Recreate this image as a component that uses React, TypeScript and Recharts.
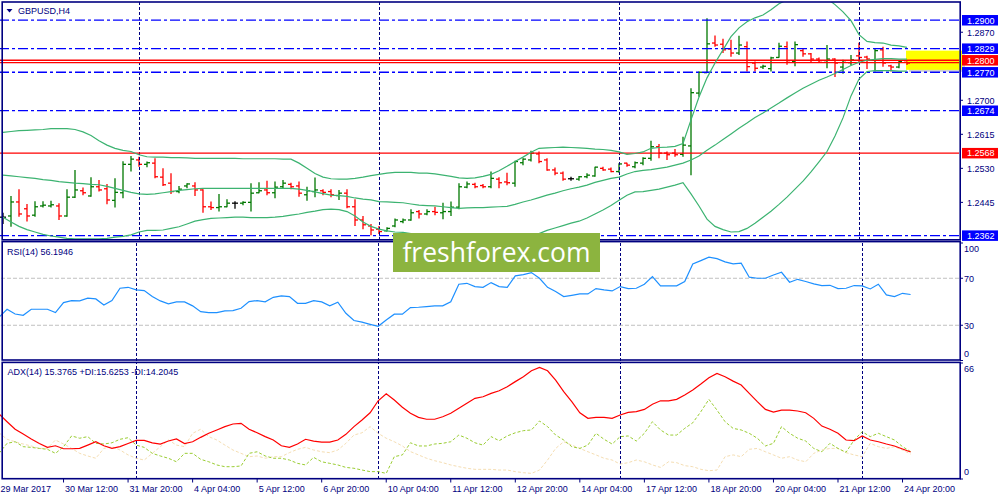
import React from "react";
import { ComposedChart, Bar, Line, XAxis, YAxis, ReferenceLine, ReferenceArea } from "recharts";

// GBPUSD H4 bars, 29 Mar 04:00 .. 25 Apr 00:00
const opens = [
  1.2408, 1.2411, 1.2446, 1.2429, 1.2413, 1.2436, 1.2436, 1.2436, 1.2411, 1.2458,
  1.2474, 1.2461, 1.2484, 1.2479, 1.245, 1.2469, 1.254, 1.2551, 1.254, 1.2543,
  1.2508, 1.2493, 1.2472, 1.2486, 1.2486, 1.2476, 1.2434, 1.2432, 1.2434, 1.2443,
  1.2443, 1.2445, 1.2469, 1.2476, 1.2469, 1.2484, 1.249, 1.2486, 1.2464, 1.2472,
  1.2474, 1.2472, 1.2462, 1.2468, 1.2434, 1.2401, 1.2386, 1.2378, 1.2374, 1.2386,
  1.2397, 1.2401, 1.2422, 1.2416, 1.2422, 1.2419, 1.2422, 1.2433, 1.2483, 1.249,
  1.2487, 1.2484, 1.2503, 1.2496, 1.2493, 1.2544, 1.2551, 1.2566, 1.2551, 1.2526,
  1.2518, 1.2504, 1.2503, 1.2509, 1.2511, 1.253, 1.2528, 1.2522, 1.2543, 1.2534,
  1.2543, 1.2555, 1.2584, 1.2568, 1.2568, 1.2565, 1.2586, 1.2718, 1.2769, 1.2843,
  1.284, 1.2828, 1.2818, 1.2834, 1.2793, 1.2783, 1.2779, 1.2807, 1.2834, 1.2797,
  1.2824, 1.2816, 1.2803, 1.2799, 1.2803, 1.2783, 1.2794, 1.2811, 1.2808, 1.2801,
  1.2826, 1.2786, 1.2783, 1.2795,
];
const highs = [
  1.2419, 1.2461, 1.2478, 1.2441, 1.2448, 1.2448, 1.2449, 1.2443, 1.2478, 1.2526,
  1.2482, 1.2508, 1.2501, 1.2491, 1.2505, 1.2548, 1.2561, 1.2559, 1.2547, 1.2555,
  1.253, 1.2518, 1.2486, 1.2493, 1.2495, 1.2478, 1.2447, 1.2466, 1.2453, 1.2448,
  1.2448, 1.2493, 1.2495, 1.2499, 1.2497, 1.2501, 1.2494, 1.2497, 1.2484, 1.2507,
  1.2478, 1.2478, 1.2476, 1.2478, 1.2453, 1.2411, 1.2391, 1.2386, 1.2383, 1.2405,
  1.2405, 1.2428, 1.2426, 1.2428, 1.2434, 1.2444, 1.2447, 1.2493, 1.2497, 1.2494,
  1.2491, 1.2522, 1.2508, 1.2519, 1.2549, 1.2555, 1.2574, 1.2572, 1.2555, 1.2532,
  1.2522, 1.2509, 1.2511, 1.2518, 1.2534, 1.2534, 1.2532, 1.2543, 1.2544, 1.2547,
  1.2558, 1.2599, 1.2591, 1.2572, 1.2578, 1.2609, 1.273, 1.2772, 1.2905, 1.2862,
  1.2854, 1.2851, 1.2861, 1.2847, 1.2797, 1.2789, 1.2809, 1.2844, 1.2847, 1.2847,
  1.2828, 1.2818, 1.2807, 1.2838, 1.2805, 1.2801, 1.2813, 1.2844, 1.2811, 1.2828,
  1.2834, 1.2789, 1.2798, 1.2797,
];
const lows = [
  1.2391, 1.2384, 1.2409, 1.2397, 1.2409, 1.2432, 1.2432, 1.2401, 1.2409, 1.2456,
  1.2463, 1.2459, 1.2472, 1.244, 1.2432, 1.2455, 1.2522, 1.2534, 1.2533, 1.2505,
  1.2486, 1.2466, 1.2468, 1.248, 1.2461, 1.2419, 1.2426, 1.2422, 1.2433, 1.2429,
  1.2438, 1.2422, 1.2468, 1.2463, 1.2455, 1.248, 1.2478, 1.2459, 1.2449, 1.2458,
  1.2463, 1.2458, 1.2451, 1.243, 1.2386, 1.2378, 1.2363, 1.2366, 1.2372, 1.2383,
  1.2393, 1.2399, 1.2405, 1.2413, 1.2413, 1.2403, 1.2411, 1.2428, 1.248, 1.248,
  1.248, 1.248, 1.248, 1.2488, 1.2484, 1.2538, 1.2547, 1.2543, 1.2524, 1.2513,
  1.2499, 1.2499, 1.2499, 1.2505, 1.2509, 1.2524, 1.252, 1.2519, 1.2534, 1.253,
  1.2538, 1.2549, 1.2555, 1.2551, 1.2559, 1.2559, 1.2513, 1.2709, 1.2768, 1.2834,
  1.2818, 1.2809, 1.2813, 1.2772, 1.2772, 1.2778, 1.2772, 1.2806, 1.2789, 1.2785,
  1.2809, 1.2794, 1.2793, 1.278, 1.2758, 1.2766, 1.2788, 1.2793, 1.2778, 1.2772,
  1.2784, 1.2772, 1.278, 1.2788,
];
const closes = [
  1.2408, 1.2446, 1.2416, 1.2411, 1.2434, 1.2438, 1.2439, 1.2411, 1.2458, 1.2476,
  1.2469, 1.2484, 1.2476, 1.2451, 1.247, 1.254, 1.2553, 1.254, 1.2544, 1.2509,
  1.2489, 1.2472, 1.2478, 1.2491, 1.2476, 1.2434, 1.2432, 1.2434, 1.2443, 1.2443,
  1.2445, 1.2468, 1.2474, 1.2469, 1.2483, 1.2493, 1.2484, 1.2468, 1.2474, 1.2476,
  1.247, 1.2464, 1.2468, 1.2434, 1.2401, 1.2389, 1.2376, 1.2372, 1.238, 1.2401,
  1.2401, 1.2419, 1.2416, 1.2422, 1.242, 1.2422, 1.2433, 1.2484, 1.2491, 1.2484,
  1.2484, 1.2505, 1.2494, 1.2494, 1.2547, 1.2553, 1.2568, 1.2547, 1.2526, 1.2518,
  1.2503, 1.2504, 1.2509, 1.2513, 1.2533, 1.2526, 1.2522, 1.2541, 1.2538, 1.2544,
  1.2555, 1.2584, 1.2568, 1.2564, 1.2564, 1.2588, 1.2719, 1.277, 1.2841, 1.2838,
  1.2826, 1.2818, 1.2838, 1.2784, 1.278, 1.2785, 1.2806, 1.2835, 1.2799, 1.2839,
  1.2816, 1.2803, 1.2799, 1.2803, 1.2793, 1.2799, 1.2801, 1.2807, 1.2803, 1.2824,
  1.2793, 1.2783, 1.2797, 1.2793,
];

// Bollinger Bands (20, 2)
const bbUpper = [
  1.262, 1.2622, 1.2624, 1.2625, 1.2626, 1.2627, 1.2629, 1.2629, 1.2629, 1.2627,
  1.2621, 1.2612, 1.2599, 1.2588, 1.258, 1.2575, 1.2572, 1.2564, 1.2559, 1.2558,
  1.2558, 1.2557, 1.2557, 1.2556, 1.2555, 1.2555, 1.2555, 1.2555, 1.2555, 1.2555,
  1.2554, 1.2554, 1.2554, 1.2554, 1.2554, 1.2553, 1.2553, 1.2543, 1.253, 1.2517,
  1.2508, 1.2504, 1.2503, 1.2503, 1.2505, 1.2508, 1.2512, 1.2515, 1.2518, 1.252,
  1.252, 1.252, 1.2518, 1.2518, 1.2516, 1.2513, 1.251, 1.2506, 1.2505, 1.2506,
  1.251, 1.2515, 1.2524, 1.2535, 1.2547, 1.2558, 1.257, 1.258, 1.2581, 1.2582,
  1.2583, 1.2582, 1.2581, 1.258, 1.2578, 1.2577, 1.2575, 1.2571, 1.2565, 1.2567,
  1.2571, 1.258, 1.2582, 1.2583, 1.2585, 1.2592, 1.2651, 1.2708, 1.2756, 1.2793,
  1.2826, 1.2859, 1.2881, 1.2896, 1.2906, 1.2913, 1.2926, 1.2941, 1.2951, 1.2959,
  1.2964, 1.2964, 1.2961, 1.2954, 1.2939, 1.2921, 1.2899, 1.2864, 1.2847, 1.2844,
  1.2843, 1.2838, 1.2836, 1.2832,
];
const bbMiddle = [
  1.2513, 1.2511, 1.2509, 1.2507, 1.2505, 1.2502, 1.25, 1.2497, 1.2495, 1.2493,
  1.2492, 1.249, 1.2489, 1.2485, 1.248, 1.2475, 1.247, 1.2466, 1.2465, 1.2466,
  1.2469, 1.2472, 1.2475, 1.2477, 1.2479, 1.248, 1.248, 1.248, 1.248, 1.248,
  1.248, 1.248, 1.248, 1.248, 1.248, 1.248, 1.248, 1.2478, 1.2475, 1.2471,
  1.2467, 1.2463, 1.2462, 1.246, 1.2456, 1.2453, 1.2451, 1.2447, 1.2446, 1.2445,
  1.2444, 1.2441, 1.2438, 1.2437, 1.2436, 1.2434, 1.2432, 1.243, 1.2431, 1.2432,
  1.2432, 1.2433, 1.2434, 1.2435, 1.244, 1.2446, 1.2451, 1.2457, 1.2463, 1.2468,
  1.2474, 1.2479, 1.2483, 1.2488, 1.2495, 1.25, 1.2505, 1.2508, 1.2516, 1.2522,
  1.2525, 1.2527, 1.253, 1.2533, 1.2538, 1.2543, 1.2551, 1.2561, 1.2575, 1.2588,
  1.2602, 1.2616, 1.263, 1.2643, 1.2657, 1.2668, 1.2681, 1.2693, 1.2706, 1.2718,
  1.273, 1.274, 1.275, 1.2758, 1.2767, 1.2777, 1.2787, 1.2795, 1.28, 1.2802,
  1.2804, 1.2804, 1.2803, 1.2803,
];
const bbLower = [
  1.2408, 1.2396, 1.2385, 1.2377, 1.2371, 1.2365, 1.2361, 1.2358, 1.2355, 1.2354,
  1.2354, 1.2354, 1.2354, 1.2355, 1.2358, 1.236, 1.2364, 1.2371, 1.2375, 1.2375,
  1.2376, 1.238, 1.2384, 1.2391, 1.2398, 1.2402, 1.2405, 1.2406, 1.2407, 1.2408,
  1.2408, 1.2407, 1.2407, 1.2407, 1.2408, 1.241, 1.2413, 1.2416, 1.242, 1.2423,
  1.2427, 1.2428, 1.2427, 1.2422, 1.2411, 1.2396, 1.2385, 1.2378, 1.2374, 1.2371,
  1.237, 1.2367, 1.2364, 1.2361, 1.2358, 1.2356, 1.2355, 1.2353, 1.2351, 1.235,
  1.2348, 1.2348, 1.2349, 1.2351, 1.2353, 1.2357, 1.2362, 1.2367, 1.2375, 1.2381,
  1.2387, 1.2393, 1.2398, 1.2406, 1.2416, 1.2426, 1.2437, 1.245, 1.2463, 1.2471,
  1.2472, 1.2475, 1.2478, 1.2483, 1.2488, 1.2494, 1.2466, 1.2436, 1.2403, 1.2385,
  1.2377, 1.2371, 1.2372, 1.238, 1.2393, 1.2408, 1.2423, 1.244, 1.2458, 1.2478,
  1.2498, 1.2521, 1.2546, 1.2572, 1.2611, 1.2656, 1.2711, 1.2753, 1.2772, 1.2774,
  1.2774, 1.2774, 1.2773, 1.2773,
];

// RSI(14)
const rsi = [
  36.8, 43.6, 39.6, 38.5, 43.6, 43.6, 43.6, 40.8, 49.3, 51.0,
  50.7, 53.0, 52.4, 47.3, 51.0, 61.5, 62.3, 60.1, 59.5, 54.4,
  50.7, 48.2, 49.9, 49.9, 46.5, 41.6, 40.8, 40.8, 42.2, 42.5,
  44.5, 50.1, 51.0, 49.9, 53.8, 55.0, 54.4, 48.7, 48.7, 51.0,
  49.9, 46.5, 49.6, 40.2, 34.0, 32.6, 30.8, 29.1, 34.5, 39.4,
  39.4, 45.0, 45.3, 45.9, 46.5, 46.5, 49.9, 64.9, 65.7, 62.9,
  62.3, 66.3, 62.9, 62.3, 72.0, 73.1, 74.8, 70.0, 62.3, 58.7,
  54.4, 55.5, 56.7, 56.7, 61.2, 60.1, 59.2, 62.9, 61.2, 61.5,
  64.9, 71.4, 63.5, 63.5, 63.5, 67.2, 82.2, 85.0, 87.9, 86.7,
  83.9, 82.2, 82.8, 70.9, 70.0, 70.0, 72.8, 75.1, 66.6, 69.1,
  67.2, 65.2, 63.8, 64.0, 61.2, 61.5, 63.8, 63.5, 60.9, 64.9,
  55.8, 54.4, 57.2, 56.19,
];

// ADX(14), +DI, -DI
const adx = [
  37.0, 32.6, 28.3, 25.6, 22.8, 20.2, 18.0, 18.9, 17.2, 17.2,
  17.4, 19.3, 21.2, 18.9, 17.4, 18.4, 20.2, 22.0, 22.0, 20.6,
  19.9, 21.6, 22.8, 20.2, 21.2, 23.7, 26.0, 27.9, 29.8, 31.3,
  31.7, 28.3, 26.3, 24.1, 22.2, 18.9, 18.0, 19.9, 22.6, 21.6,
  21.0, 21.0, 22.2, 25.4, 29.8, 33.6, 37.7, 44.5, 48.5, 44.9,
  40.8, 37.4, 35.1, 34.0, 34.0, 35.4, 37.4, 40.2, 43.1, 45.9,
  46.8, 48.7, 50.2, 52.5, 55.4, 58.2, 61.6, 63.5, 61.6, 56.3,
  49.7, 44.0, 37.7, 34.5, 35.1, 35.1, 34.5, 36.4, 37.9, 38.3,
  39.6, 42.5, 44.5, 44.5, 45.3, 47.8, 50.6, 54.0, 57.6, 60.1,
  58.2, 55.7, 53.5, 48.7, 44.0, 39.6, 38.1, 39.2, 39.2, 38.7,
  37.7, 34.5, 30.1, 28.3, 26.0, 22.2, 21.8, 24.5, 22.2, 21.2,
  19.9, 18.8, 17.1, 15.38,
];
const plusDi = [
  14.6, 20.3, 21.2, 18.4, 18.0, 17.4, 16.9, 14.6, 18.4, 24.5,
  23.2, 24.1, 20.3, 19.9, 20.6, 22.6, 23.5, 19.3, 18.0, 14.6,
  13.1, 11.8, 9.8, 14.6, 14.6, 11.2, 9.8, 8.0, 7.0, 7.0,
  7.4, 14.6, 15.5, 13.1, 11.8, 11.8, 10.8, 8.9, 8.0, 12.3,
  9.8, 8.9, 8.0, 6.6, 6.1, 5.1, 4.2, 4.2, 3.2, 12.7,
  13.7, 20.6, 18.8, 18.8, 19.9, 20.3, 21.2, 25.0, 23.2, 20.6,
  19.3, 24.1, 21.8, 24.5, 26.3, 27.5, 27.9, 33.0, 29.8, 25.0,
  22.2, 18.4, 17.4, 19.3, 26.0, 22.6, 19.9, 24.1, 24.5, 21.6,
  26.0, 32.6, 27.9, 25.0, 25.0, 28.8, 32.0, 38.3, 45.3, 39.2,
  32.6, 28.8, 27.9, 26.0, 23.2, 18.8, 20.3, 29.8, 26.0, 23.2,
  21.6, 17.4, 15.5, 20.3, 17.4, 15.2, 22.2, 26.9, 24.1, 26.0,
  24.1, 22.2, 18.4, 15.63,
];
const minusDi = [
  26.3, 22.6, 21.2, 19.9, 18.8, 17.4, 17.4, 22.2, 19.9, 17.4,
  14.6, 13.1, 11.8, 17.4, 18.4, 16.5, 13.7, 11.8, 10.8, 14.6,
  18.4, 22.2, 19.3, 18.4, 26.0, 28.3, 24.1, 22.2, 19.3, 16.5,
  14.6, 12.7, 13.1, 11.8, 12.7, 12.7, 15.0, 16.9, 18.0, 16.5,
  15.5, 15.0, 16.5, 20.3, 25.0, 26.3, 29.8, 26.0, 23.2, 21.2,
  18.8, 15.6, 13.7, 11.8, 10.4, 9.3, 8.0, 7.0, 6.1, 5.5,
  5.5, 5.5, 5.1, 5.1, 4.2, 3.6, 3.2, 5.1, 10.8, 17.4,
  21.2, 19.3, 17.4, 15.5, 13.7, 11.8, 10.8, 8.5, 9.3, 10.8,
  9.8, 8.0, 6.6, 9.8, 9.3, 7.6, 7.0, 5.5, 4.7, 5.1,
  12.7, 13.7, 12.7, 16.9, 17.4, 15.5, 13.7, 11.8, 12.7, 10.8,
  9.8, 14.6, 16.5, 17.4, 17.4, 15.0, 13.7, 12.7, 20.3, 18.4,
  17.4, 18.4, 16.5, 14.2,
];

const priceTicks = [1.29, 1.287, 1.2829, 1.28, 1.277, 1.27, 1.2674, 1.2615, 1.2568, 1.253, 1.2445, 1.2362];
const blueLevels = [1.29, 1.2829, 1.277, 1.2674, 1.2362];
const redLevels = [1.28, 1.2794, 1.2568];
const redTagged = [1.28, 1.2568];
const separators = [17, 47, 77, 107];
const timeTickIdx = [0, 8, 16, 24, 32, 40, 48, 56, 64, 72, 80, 88, 96, 104, 112];
const timeLabels = [
  "29 Mar 2017", "30 Mar 12:00", "31 Mar 20:00", "4 Apr 04:00", "5 Apr 12:00",
  "6 Apr 20:00", "10 Apr 04:00", "11 Apr 12:00", "12 Apr 20:00", "14 Apr 04:00",
  "17 Apr 12:00", "18 Apr 20:00", "20 Apr 04:00", "21 Apr 12:00", "24 Apr 20:00",
];
const rsiTicks = [0, 30, 70, 100];
const adxTicks = [0, 66];

const NAVY = "#000080";
const FONT = "'Liberation Sans', Arial, sans-serif";
const SLOTS = 120; // 114 bars + empty space to the right edge

const rows = Array.from({ length: SLOTS }, (_, i) =>
  i < opens.length
    ? {
        i,
        hl: [lows[i], highs[i]],
        o: opens[i],
        h: highs[i],
        l: lows[i],
        c: closes[i],
        up: bbUpper[i],
        mid: bbMiddle[i],
        lo: bbLower[i],
        rsi: rsi[i],
        adx: adx[i],
        pdi: plusDi[i],
        mdi: minusDi[i],
      }
    : { i }
);

const OhlcShape = (props: any) => {
  const { x, y, width, height, payload } = props;
  if (!payload || payload.o == null) return <g />;
  const top = Math.min(y, y + height);
  const span = Math.abs(height);
  const cx = x + width / 2;
  const { o, h, l, c } = payload;
  const toY = (v: number) => (h === l ? top : top + ((h - v) / (h - l)) * span);
  const color = c > o ? "#007800" : c < o ? "#FF0000" : "#000000";
  return (
    <g stroke={color} strokeWidth={1.3}>
      <line x1={cx} x2={cx} y1={top} y2={top + span} />
      <line x1={cx - 3} x2={cx} y1={toY(o)} y2={toY(o)} />
      <line x1={cx} x2={cx + 3} y1={toY(c)} y2={toY(c)} />
    </g>
  );
};

const PriceTick = (props: any) => {
  const { x, y, payload } = props;
  const v = payload.value;
  const label = Number(v).toFixed(4);
  const isRed = redTagged.includes(v);
  const isBlue = blueLevels.includes(v);
  if (isRed || isBlue) {
    return (
      <g>
        <rect x={x + 3} y={y - 5.2} width={36} height={10.5} fill={isRed ? "#FF0000" : "#0000FF"} />
        <text x={x + 8} y={y + 3.3} fill="#FFFFFF" fontSize={9} fontFamily={FONT}>
          {label}
        </text>
      </g>
    );
  }
  return (
    <g>
      <line x1={x + 1} x2={x + 4} y1={y} y2={y} stroke={NAVY} />
      <text x={x + 8} y={y + 3.3} fill={NAVY} fontSize={9} fontFamily={FONT}>
        {label}
      </text>
    </g>
  );
};

const makeSideTick = (top: number, bottom: number) => (props: any) => {
  const { x, y, payload } = props;
  const v = payload.value;
  const dy = v === top ? 6 : v === bottom ? -7 : 0;
  return (
    <g>
      <line x1={x + 1} x2={x + 4} y1={y} y2={y} stroke={NAVY} />
      <text x={x + 5} y={y + dy + 3.3} fill={NAVY} fontSize={9} fontFamily={FONT}>
        {v}
      </text>
    </g>
  );
};

const TimeTick = (props: any) => {
  const { x, y, payload } = props;
  const k = timeTickIdx.indexOf(payload.value);
  return (
    <g>
      <line x1={x} x2={x} y1={y} y2={y + 3.5} stroke={NAVY} />
      <text x={x + 1.5} y={y + 12.5} fill={NAVY} fontSize={9} fontFamily={FONT}>
        {k >= 0 ? timeLabels[k] : ""}
      </text>
    </g>
  );
};

const YellowTag = (props: any) => {
  const { x, y, width, height } = props;
  return (
    <g>
      <rect x={x - 2} y={y + 2} width={width + 8} height={height} fill="#000" opacity={0.18} />
      <rect x={x - 5} y={y} width={width + 8} height={height} fill="#FFFF00" />
    </g>
  );
};

export default function App() {
  const sepLines = () =>
    separators.map((s) => (
      <ReferenceLine
        key={"s" + s}
        x={s}
        stroke={NAVY}
        strokeDasharray="3 2"
        strokeWidth={1}
        shapeRendering="crispEdges"
      />
    ));

  return (
    <div style={{ position: "absolute", left: 0, top: 0, width: 1000, height: 500, background: "#fff", overflow: "hidden" }}>
      {/* price window */}
      <div style={{ position: "absolute", left: -1, top: 0 }}>
        <ComposedChart width={1001} height={242} data={rows} margin={{ top: 2, right: 1, bottom: 2, left: 0 }} barCategoryGap={1}>
          <XAxis dataKey="i" type="category" hide />
          <YAxis
            orientation="right"
            domain={[1.2351, 1.29455]}
            allowDataOverflow
            ticks={priceTicks}
            interval={0}
            width={40}
            axisLine={false}
            tickLine={false}
            tickSize={0}
            tickMargin={0}
            tick={(p: any) => <PriceTick {...p} />}
          />
          <ReferenceArea x1={114} x2={119} y1={1.2776} y2={1.2824} shape={(p: any) => <YellowTag {...p} />} />
          {sepLines()}
          {blueLevels.map((v) => (
            <ReferenceLine key={"b" + v} y={v} stroke="#0000FF" strokeWidth={1.3} strokeDasharray="10 3 3 3" />
          ))}
          {redLevels.map((v) => (
            <ReferenceLine key={"r" + v} y={v} stroke="#FF0000" strokeWidth={1.3} />
          ))}
          <Line dataKey="up" stroke="#3CB371" strokeWidth={1.2} dot={false} activeDot={false} isAnimationActive={false} />
          <Line dataKey="mid" stroke="#3CB371" strokeWidth={1.2} dot={false} activeDot={false} isAnimationActive={false} />
          <Line dataKey="lo" stroke="#3CB371" strokeWidth={1.2} dot={false} activeDot={false} isAnimationActive={false} />
          <Bar dataKey="hl" shape={(p: any) => <OhlcShape {...p} />} isAnimationActive={false} />
        </ComposedChart>
      </div>

      {/* RSI window */}
      <div style={{ position: "absolute", left: -1, top: 241 }}>
        <ComposedChart width={1001} height={121} data={rows} margin={{ top: 2, right: 1, bottom: 1.5, left: 0 }}>
          <XAxis dataKey="i" type="category" hide />
          <YAxis
            orientation="right"
            domain={[0, 100]}
            allowDataOverflow
            ticks={rsiTicks}
            interval={0}
            width={40}
            axisLine={false}
            tickLine={false}
            tickSize={0}
            tickMargin={0}
            tick={makeSideTick(100, 0)}
          />
          {sepLines()}
          <ReferenceLine y={70} stroke="#C0C0C0" strokeDasharray="4 2" />
          <ReferenceLine y={30} stroke="#C0C0C0" strokeDasharray="4 2" />
          <Line dataKey="rsi" stroke="#1E90FF" strokeWidth={1.2} dot={false} activeDot={false} isAnimationActive={false} />
        </ComposedChart>
      </div>

      {/* ADX window */}
      <div style={{ position: "absolute", left: -1, top: 361 }}>
        <ComposedChart width={1001} height={139} data={rows} margin={{ top: 2, right: 1, bottom: 0, left: 0 }}>
          <XAxis
            dataKey="i"
            type="category"
            height={21}
            ticks={timeTickIdx}
            interval={0}
            axisLine={false}
            tickLine={false}
            tickSize={0}
            tickMargin={0}
            tick={(p: any) => <TimeTick {...p} />}
          />
          <YAxis
            orientation="right"
            domain={[0, 66]}
            allowDataOverflow
            ticks={adxTicks}
            interval={0}
            width={40}
            axisLine={false}
            tickLine={false}
            tickSize={0}
            tickMargin={0}
            tick={makeSideTick(66, 0)}
          />
          {sepLines()}
          <Line dataKey="mdi" stroke="#F5DEB3" strokeWidth={1} strokeDasharray="3 2" dot={false} activeDot={false} isAnimationActive={false} />
          <Line dataKey="pdi" stroke="#9ACD32" strokeWidth={1} strokeDasharray="3 2" dot={false} activeDot={false} isAnimationActive={false} />
          <Line dataKey="adx" stroke="#FF0000" strokeWidth={1.2} dot={false} activeDot={false} isAnimationActive={false} />
        </ComposedChart>
      </div>

      {/* window frames and captions */}
      <svg width={1000} height={500} style={{ position: "absolute", left: 0, top: 0, pointerEvents: "none" }}>
        <rect x={2.2} y={2} width={958} height={237.8} fill="none" stroke={NAVY} strokeWidth={1.6} />
        <rect x={2.2} y={241.6} width={958} height={118.4} fill="none" stroke={NAVY} strokeWidth={1.6} />
        <rect x={2.2} y={362.4} width={958} height={116.3} fill="none" stroke={NAVY} strokeWidth={1.6} />
        <polygon points="6.5,9 12.5,9 9.5,12.5" fill={NAVY} />
        <text x={18} y={13.5} fill={NAVY} fontSize={9} fontFamily={FONT}>GBPUSD,H4</text>
        <text x={7} y={255} fill={NAVY} fontSize={9} fontFamily={FONT}>RSI(14) 56.1946</text>
        <text x={7.5} y={375} fill={NAVY} fontSize={9} fontFamily={FONT}>ADX(14) 15.3765 +DI:15.6253 -DI:14.2045</text>
      </svg>

      {/* watermark */}
      <div
        style={{
          position: "absolute",
          left: 393,
          top: 233,
          width: 207,
          height: 39,
          background: "#8CB43F",
          color: "#FFFFFF",
          fontFamily: "'Open Sans', sans-serif",
          fontSize: 26.5,
          lineHeight: "38px",
          textAlign: "center",
        }}
      >
        freshforex.com
      </div>
    </div>
  );
}
